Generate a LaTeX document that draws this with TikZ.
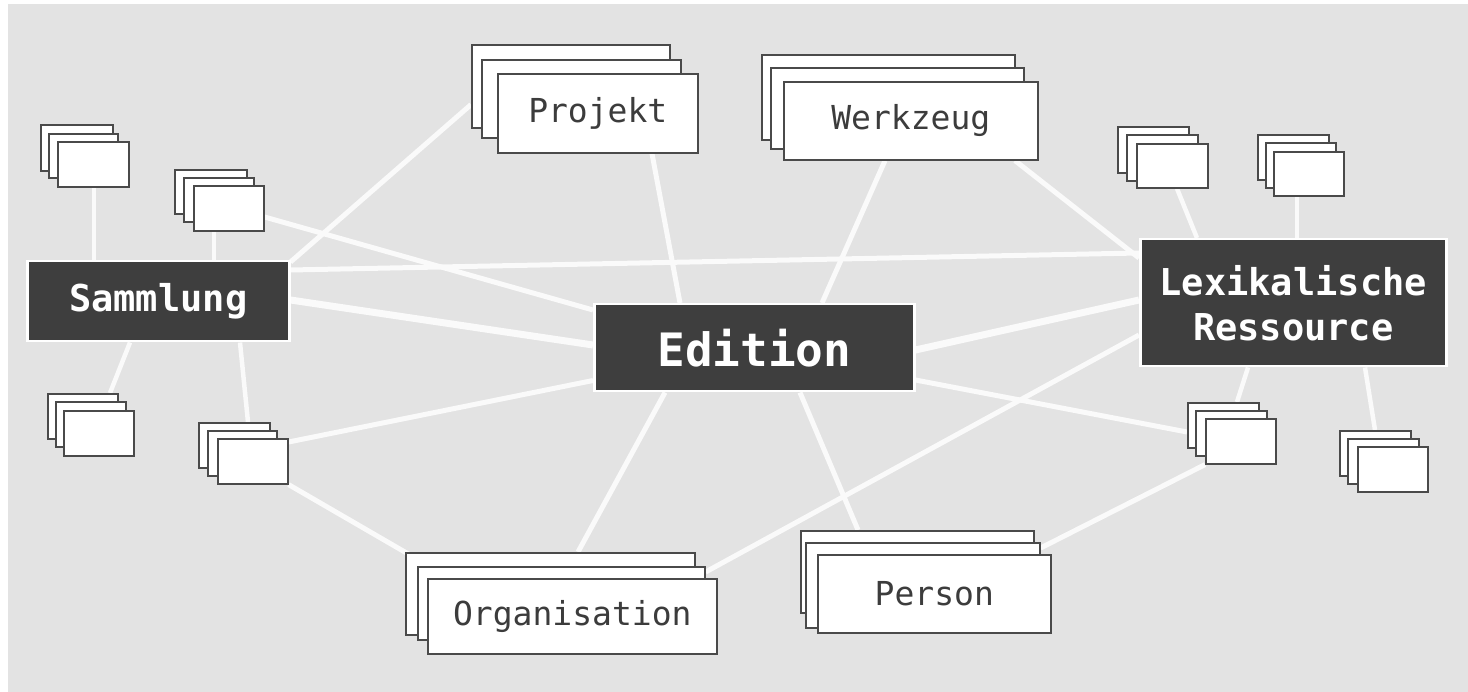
\documentclass[tikz,border=0pt]{standalone}
\usepackage{fontspec}
\setmonofont{DejaVu Sans Mono}
\usetikzlibrary{calc}
\definecolor{bggray}{HTML}{E3E3E3}
\definecolor{darkbox}{HTML}{3E3E3E}
\definecolor{edgec}{HTML}{4A4A4A}
\definecolor{txt}{HTML}{3C3C3C}
\definecolor{linec}{HTML}{FAFAFA}
\pgfdeclarelayer{back}
\pgfdeclarelayer{lines}
\pgfsetlayers{back,lines,main}
\tikzset{
  lbox/.style={draw=edgec, line width=1.6pt, fill=white, inner sep=0pt, anchor=north west,
    text=txt, font=\ttfamily\fontsize{33}{40}\selectfont},
  dbox/.style={draw=white, line width=2.5pt, fill=darkbox, inner sep=0pt, anchor=north west,
    text=white, font=\ttfamily\bfseries\fontsize{37}{45}\selectfont, align=center},
  conn/.style={draw=linec, line width=5pt},
  thickconn/.style={draw=linec, line width=7pt},
  shortconn/.style={draw=linec, line width=4.5pt},
}
\newcommand\lay[7][]{\node[lbox,#1,minimum width={(#4-#2)*1pt},minimum height={(#5-#3)*1pt}] (#6) at (#2,#3) {#7};}
\newcommand\dlay[7][]{\node[dbox,#1,minimum width={(#4-#2)*1pt},minimum height={(#5-#3)*1pt}] (#6) at (#2,#3) {#7};}
\begin{document}
\begin{tikzpicture}[x=1pt,y=-1pt]
\useasboundingbox (0,0) rectangle (1468,692);
\begin{pgfonlayer}{back}
  \fill[white] (0,0) rectangle (1468,692);
  \fill[bggray] (8,4) rectangle (1468,692);
\end{pgfonlayer}

% dark nodes
\dlay{26}{260}{288}{340}{sam}{Sammlung}
\dlay[font=\ttfamily\bfseries\fontsize{46}{52}\selectfont]{593}{303}{913}{390}{edi}{Edition}
\dlay{1139}{238}{1445}{365}{lex}{Lexikalische\\Ressource}

% big stacks
\lay{471}{44}{669}{127}{pro1}{}
\lay{481}{59}{680}{137}{pro2}{}
\lay{497}{73}{697}{152}{pro3}{Projekt}

\lay{761}{54}{1014}{139}{wer1}{}
\lay{770}{67}{1023}{148}{wer2}{}
\lay{783}{81}{1037}{159}{wer3}{Werkzeug}

\lay{405}{552}{694}{634}{org1}{}
\lay{417}{566}{704}{639}{org2}{}
\lay{427}{578}{716}{653}{org3}{Organisation}

\lay{800}{530}{1033}{612}{per1}{}
\lay{805}{542}{1039}{627}{per2}{}
\lay{817}{554}{1050}{632}{per3}{Person}

% small stacks
\lay{40}{124}{112}{170}{s1a}{}
\lay{48}{133}{117}{177}{s1b}{}
\lay{57}{141}{128}{186}{s1c}{}

\lay{174}{169}{246}{213}{s2a}{}
\lay{183}{177}{253}{221}{s2b}{}
\lay{193}{185}{263}{230}{s2c}{}

\lay{47}{393}{117}{438}{s3a}{}
\lay{55}{401}{125}{446}{s3b}{}
\lay{63}{410}{133}{455}{s3c}{}

\lay{198}{422}{269}{467}{s4a}{}
\lay{207}{430}{276}{475}{s4b}{}
\lay{217}{438}{287}{483}{s4c}{}

\lay{1117}{126}{1188}{172}{s5a}{}
\lay{1126}{134}{1197}{180}{s5b}{}
\lay{1136}{143}{1207}{187}{s5c}{}

\lay{1257}{134}{1328}{179}{s6a}{}
\lay{1265}{142}{1335}{187}{s6b}{}
\lay{1273}{151}{1343}{195}{s6c}{}

\lay{1187}{402}{1258}{447}{s7a}{}
\lay{1195}{410}{1266}{455}{s7b}{}
\lay{1205}{418}{1275}{463}{s7c}{}

\lay{1339}{430}{1410}{475}{s8a}{}
\lay{1347}{438}{1418}{483}{s8b}{}
\lay{1357}{446}{1427}{491}{s8c}{}

\begin{pgfonlayer}{lines}
  % main connectors
  \draw[conn] ($(sam.north east)+(0,10)$) -- ($(lex.north west)+(0,15)$);
  \draw[thickconn] ($(sam.north east)+(0,40)$) -- ($(edi.north west)+(0,42)$);
  \draw[conn] ($(sam.north east)+(0,2)$) -- ($(pro1.south west)+(0,-24)$);
  \draw[conn] ($(s2c.north east)+(0,32)$) -- ($(edi.north west)+(0,7)$);
  \draw[conn] ($(pro3.south west)+(155,0)$) -- ($(edi.north west)+(87,0)$);
  \draw[conn] ($(wer3.south west)+(102,0)$) -- ($(edi.north west)+(229,0)$);
  \draw[conn] ($(wer3.south west)+(232,0)$) -- ($(lex.north west)+(0,20)$);
  \draw[thickconn] ($(edi.north east)+(0,47)$) -- ($(lex.north west)+(0,62)$);
  \draw[conn] ($(edi.south west)+(72,0)$) -- ($(org1.north west)+(173,0)$);
  \draw[conn] ($(edi.south west)+(207,0)$) -- ($(per1.north west)+(58,0)$);
  \draw[conn] ($(lex.north west)+(0,97)$) -- ($(org2.north east)+(0,6)$);
  \draw[conn] ($(edi.north east)+(0,77)$) -- ($(s7a.north west)+(0,30)$);
  \draw[conn] (s7c.south west) -- ($(per2.north east)+(0,6)$);
  \draw[conn] ($(s4c.north east)+(0,4)$) -- ($(edi.south west)+(0,-12)$);
  \draw[conn] (s4c.south east) -- ($(org1.north west)+(5,3)$);
  % short connectors
  \draw[shortconn] ($(s1c.south west)+(37,0)$) -- ($(sam.north west)+(68,0)$);
  \draw[shortconn] ($(s2c.south west)+(21,0)$) -- ($(sam.north west)+(188,0)$);
  \draw[shortconn] ($(sam.south west)+(104,0)$) -- ($(s3a.north west)+(63,0)$);
  \draw[shortconn] ($(sam.south west)+(214,0)$) -- ($(s4a.north west)+(50,0)$);
  \draw[shortconn] ($(s5c.south west)+(41,0)$) -- ($(lex.north west)+(58,0)$);
  \draw[shortconn] ($(s6c.south west)+(24,0)$) -- ($(lex.north west)+(158,0)$);
  \draw[shortconn] ($(lex.south west)+(109,0)$) -- ($(s7a.north west)+(50,0)$);
  \draw[shortconn] ($(lex.south west)+(226,0)$) -- ($(s8a.north west)+(36,0)$);
\end{pgfonlayer}
\end{tikzpicture}
\end{document}
